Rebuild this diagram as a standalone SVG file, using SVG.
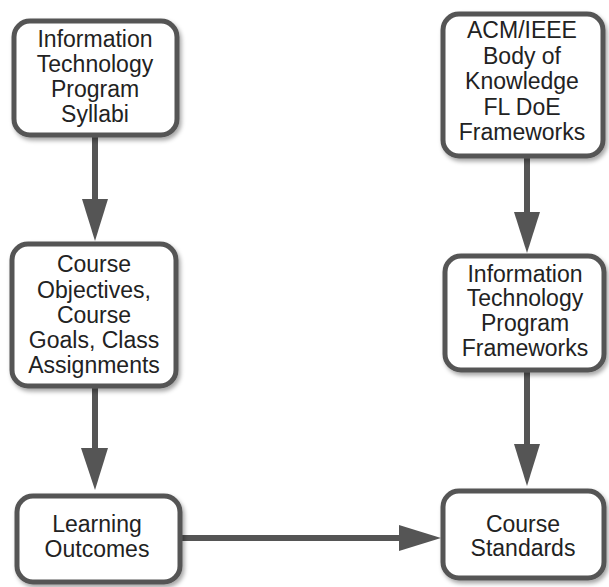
<svg xmlns="http://www.w3.org/2000/svg" width="609" height="587" viewBox="0 0 609 587">
<defs>
<filter id="sh" x="-10%" y="-10%" width="125%" height="125%">
<feDropShadow dx="2" dy="3" stdDeviation="2" flood-color="#000" flood-opacity="0.35"/>
</filter>
<style>
.box{fill:#fff;stroke:#555;stroke-width:5;filter:url(#sh)}
.t{font-family:"Liberation Sans",Arial,sans-serif;font-size:23px;fill:#222;text-anchor:middle}
.ln{stroke:#555;stroke-width:6;fill:none}
.ah{fill:#555}
</style>
</defs>
<rect width="609" height="587" fill="#fff"/>
<g id="connectors">
<line class="ln" x1="95" y1="135" x2="95" y2="202"/>
<polygon class="ah" points="82,199 108,199 95,241"/>
<line class="ln" x1="95" y1="386" x2="95" y2="451"/>
<polygon class="ah" points="81,448 108,448 95,490"/>
<line class="ln" x1="527" y1="156" x2="527" y2="215"/>
<polygon class="ah" points="514,212 540,212 527,253"/>
<line class="ln" x1="527" y1="370" x2="527" y2="447"/>
<polygon class="ah" points="514,444 540,444 527,486"/>
<line class="ln" x1="180" y1="538" x2="402" y2="538"/>
<polygon class="ah" points="399,525 399,551 441,538"/>
</g>
<g id="n1">
<rect class="box" x="14" y="21" width="163" height="114" rx="16"/>
<text class="t" x="95" y="47">Information</text>
<text class="t" x="95" y="72">Technology</text>
<text class="t" x="95" y="97">Program</text>
<text class="t" x="95" y="122">Syllabi</text>
</g>
<g id="n2">
<rect class="box" x="12" y="244" width="164" height="142" rx="16"/>
<text class="t" x="94" y="272">Course</text>
<text class="t" x="94" y="298">Objectives,</text>
<text class="t" x="94" y="323">Course</text>
<text class="t" x="94" y="348">Goals, Class</text>
<text class="t" x="94" y="373">Assignments</text>
</g>
<g id="n3">
<rect class="box" x="17" y="496" width="163" height="86" rx="16"/>
<text class="t" x="97" y="532">Learning</text>
<text class="t" x="97" y="557">Outcomes</text>
</g>
<g id="n4">
<rect class="box" x="443" y="14" width="160" height="142" rx="16"/>
<text class="t" x="522" y="38">ACM/IEEE</text>
<text class="t" x="522" y="63.5">Body of</text>
<text class="t" x="522" y="89">Knowledge</text>
<text class="t" x="522" y="114.5">FL DoE</text>
<text class="t" x="522" y="140">Frameworks</text>
</g>
<g id="n5">
<rect class="box" x="445" y="256" width="159" height="114" rx="16"/>
<text class="t" x="525" y="282">Information</text>
<text class="t" x="525" y="306">Technology</text>
<text class="t" x="525" y="331">Program</text>
<text class="t" x="525" y="356">Frameworks</text>
</g>
<g id="n6">
<rect class="box" x="443" y="491" width="161" height="87" rx="16"/>
<text class="t" x="523" y="532">Course</text>
<text class="t" x="523" y="556">Standards</text>
</g>
</svg>
